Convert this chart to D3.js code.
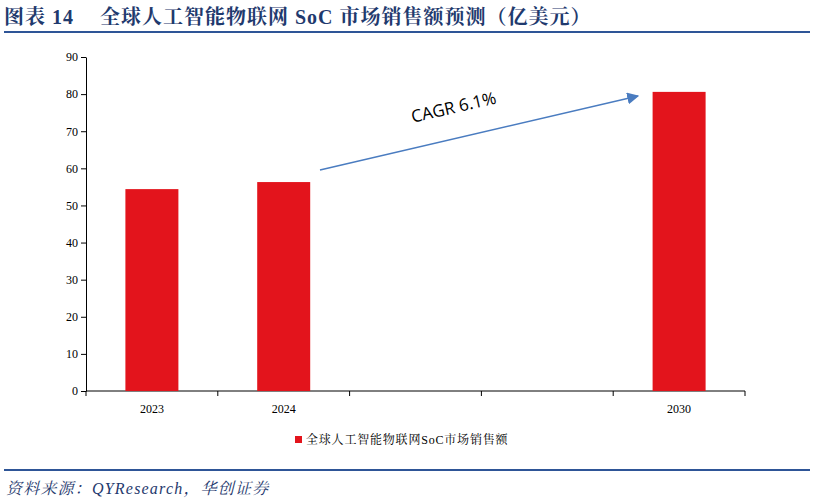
<!doctype html>
<meta charset="utf-8">
<script src="https://cdn.jsdelivr.net/npm/d3@7"></script>
<style>body{margin:0;background:#fff}</style>
<body>
<script>
var categories = ["2023", "2024", "", " ", "2030"];
var values = [54.4, 56.3, null, null, 80.6];
var yTicks = [0, 10, 20, 30, 40, 50, 60, 70, 80, 90];

var svg = d3.select("body").append("svg").attr("width", 814).attr("height", 504);
var serif = "'Liberation Serif','Noto Serif CJK SC','Noto Sans CJK SC',serif";

var title = svg.append("text").attr("y", 24)
  .style("font-family", serif).style("font-weight", "bold").style("font-size", "20px")
  .style("letter-spacing", "1px").attr("fill", "#1f3a6e");
title.append("tspan").attr("x", 4).text("图表 14");
title.append("tspan").attr("x", 100).text("全球人工智能物联网 SoC 市场销售额预测（亿美元）");
svg.append("line").attr("x1", 4).attr("x2", 810).attr("y1", 32).attr("y2", 32)
  .attr("stroke", "#2e5597").attr("stroke-width", 2);

var xb = d3.scaleBand().domain(categories).range([86, 745]);
var y = d3.scaleLinear().domain([0, 90]).range([391, 57]);

var ax = svg.append("g").attr("transform", "translate(86,0)")
  .call(d3.axisLeft(y).tickValues(yTicks).tickSize(5).tickSizeOuter(0));
ax.selectAll("text").style("font-family", serif).style("font-size", "12px").attr("fill", "#000");
ax.selectAll("line,path").attr("stroke", "#000");

var bx = svg.append("g").attr("transform", "translate(0,391)");
bx.append("line").attr("x1", 86).attr("x2", 745).attr("stroke", "#000");
bx.selectAll("line.t").data(categories.concat(["end"])).enter().append("line")
  .attr("x1", function(d, i){ return 86 + i * xb.step(); })
  .attr("x2", function(d, i){ return 86 + i * xb.step(); })
  .attr("y2", 5).attr("stroke", "#000");
bx.selectAll("text").data(categories).enter().append("text")
  .attr("x", function(d){ return xb(d) + xb.bandwidth() / 2; }).attr("y", 22)
  .attr("text-anchor", "middle").style("font-family", serif).style("font-size", "12px").text(function(d){ return d.trim(); });

var bw = 53;
svg.selectAll("rect.bar").data(values.map(function(v, i){ return {c: categories[i], v: v}; }).filter(function(d){ return d.v != null; }))
  .enter().append("rect")
  .attr("x", function(d){ return xb(d.c) + xb.bandwidth() / 2 - bw / 2; })
  .attr("width", bw)
  .attr("y", function(d){ return y(d.v); })
  .attr("height", function(d){ return 391 - y(d.v); })
  .attr("fill", "#e3141c");

svg.append("defs").append("marker").attr("id", "ah").attr("viewBox", "0 0 10 10")
  .attr("refX", 9).attr("refY", 5).attr("markerWidth", 8).attr("markerHeight", 8).attr("orient", "auto")
  .append("path").attr("d", "M0,0L10,5L0,10z").attr("fill", "#4a7cc0");
svg.append("line").attr("x1", 320).attr("y1", 170).attr("x2", 638).attr("y2", 96)
  .attr("stroke", "#4a7cc0").attr("stroke-width", 1.5).attr("marker-end", "url(#ah)");
svg.append("text").attr("transform", "translate(455,113) rotate(-13)").attr("text-anchor", "middle")
  .style("font-family", "'Open Sans','Noto Sans',sans-serif").style("font-size", "17px").text("CAGR 6.1%");

svg.append("rect").attr("x", 295).attr("y", 436).attr("width", 7).attr("height", 7).attr("fill", "#e3141c");
svg.append("text").attr("x", 306).attr("y", 444).style("font-family", serif).style("font-size", "12px")
  .style("letter-spacing", "0.8px").text("全球人工智能物联网SoC市场销售额");

svg.append("line").attr("x1", 4).attr("x2", 810).attr("y1", 470).attr("y2", 470)
  .attr("stroke", "#2e5597").attr("stroke-width", 2);
svg.append("text").attr("x", 6).attr("y", 494).style("font-family", serif).style("font-style", "italic")
  .style("font-size", "16px").style("letter-spacing", "1.2px").attr("fill", "#1f3a6e").text("资料来源：QYResearch，华创证券");
</script>
